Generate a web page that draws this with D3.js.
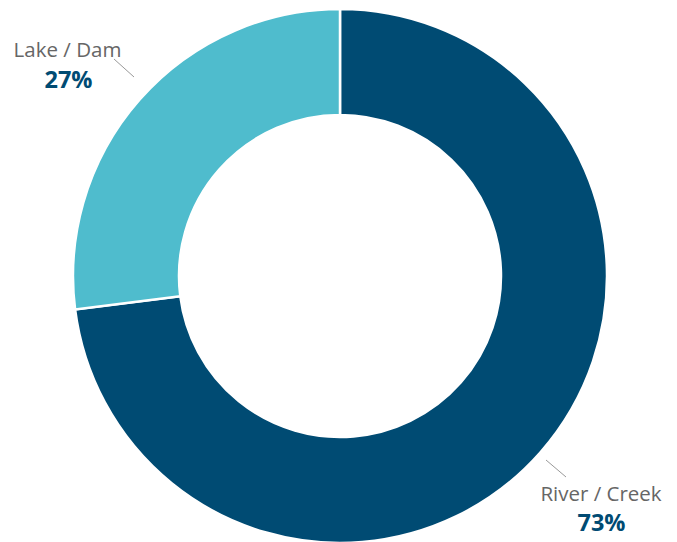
<!DOCTYPE html>
<html>
<head>
<meta charset="utf-8">
<script src="https://cdn.jsdelivr.net/npm/d3@7"></script>
<style>
  html, body { margin: 0; padding: 0; background: #fff; }
  svg { display: block; font-family: "Open Sans", "Noto Sans", sans-serif; }
</style>
</head>
<body>
<div id="chart"></div>
<script>
const categories = ["River / Creek", "Lake / Dam"];
const values = [73, 27];
const colors = ["#004B73", "#4FBCCD"];

const W = 677, H = 542;
const cx = 340, cy = 276, outerR = 267, innerR = 161;

const svg = d3.select("#chart").append("svg")
  .attr("width", W).attr("height", H);

const g = svg.append("g").attr("transform", `translate(${cx},${cy})`);

const pie = d3.pie().sort(null).value(d => d.v);
const arcs = pie(categories.map((c, i) => ({ c, v: values[i], col: colors[i] })));
const arc = d3.arc().innerRadius(innerR).outerRadius(outerR);

g.selectAll("path").data(arcs).join("path")
  .attr("d", arc)
  .attr("fill", d => d.data.col)
  .attr("stroke", "#fff")
  .attr("stroke-width", 2.5);

// labels with leader lines
const labelPos = [
  { line: [[206, 184], [226, 201]], text: [601, 501], pct: [601.5, 531] },
  { line: [[-206, -199], [-226, -217]], text: [67.5, 57], pct: [68.5, 88] }
];

arcs.forEach((d, i) => {
  const p = labelPos[i];
  g.append("line")
    .attr("x1", p.line[0][0]).attr("y1", p.line[0][1])
    .attr("x2", p.line[1][0]).attr("y2", p.line[1][1])
    .attr("stroke", "#999").attr("stroke-width", 1);
  svg.append("text")
    .attr("x", p.text[0]).attr("y", p.text[1])
    .attr("text-anchor", "middle")
    .attr("font-size", 20.5).attr("fill", "#666")
    .text(d.data.c);
  svg.append("text")
    .attr("x", p.pct[0]).attr("y", p.pct[1])
    .attr("text-anchor", "middle")
    .attr("font-size", 23.5).attr("font-weight", "bold").attr("fill", "#004B73")
    .text(d.data.v + "%");
});
</script>
</body>
</html>
